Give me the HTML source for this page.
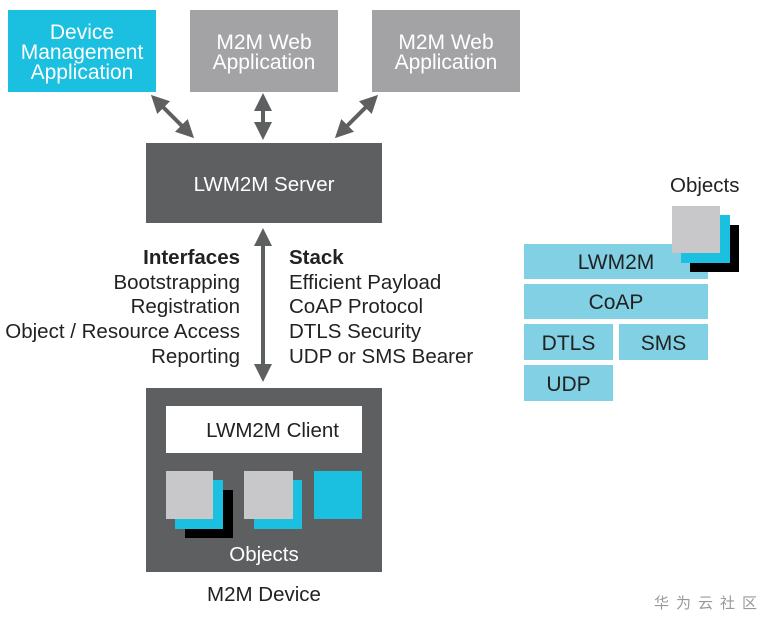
<!DOCTYPE html><html><head><style>
body{margin:0;width:774px;height:626px;background:#fff;position:relative;font-family:"Liberation Sans",sans-serif;overflow:hidden}
.b{position:absolute;display:flex;align-items:center;justify-content:center;text-align:center;padding-top:3px;box-sizing:border-box}
.t{position:absolute;font-size:20.5px;color:#222;line-height:24.7px}
</style></head><body>
<div class="b" style="left:8px;top:10px;width:148px;height:82px;background:#1bbfe0;color:#fff;font-size:21px;line-height:20px">Device<br>Management<br>Application</div>
<div class="b" style="left:190px;top:10px;width:148px;height:82px;background:#a3a3a5;color:#fff;font-size:21px;line-height:20px">M2M Web<br>Application</div>
<div class="b" style="left:372px;top:10px;width:148px;height:82px;background:#a3a3a5;color:#fff;font-size:21px;line-height:20px">M2M Web<br>Application</div>
<div class="b" style="left:146px;top:143px;width:236px;height:80px;background:#5e5f61;color:#fff;font-size:20.5px">LWM2M Server</div>
<svg style="position:absolute;left:0;top:0" width="774" height="626">
<defs><marker id="a" markerWidth="4.5" markerHeight="4.5" refX="2" refY="2.25" orient="auto-start-reverse"><path d="M0,0L4.5,2.25L0,4.5z" fill="#5e5f61"/></marker></defs>
<g stroke="#5e5f61" stroke-width="4" marker-start="url(#a)" marker-end="url(#a)">
<line x1="158" y1="102" x2="187" y2="131"/><line x1="263" y1="103" x2="263" y2="130"/><line x1="371" y1="102" x2="342" y2="131"/>
<line x1="263" y1="238" x2="263" y2="372"/></g>
</svg>
<div class="t" style="right:534px;top:246px;text-align:right"><b>Interfaces</b><br>Bootstrapping<br>Registration<br>Object / Resource Access<br>Reporting</div>
<div class="t" style="left:289px;top:246px"><b>Stack</b><br>Efficient Payload<br>CoAP Protocol<br>DTLS Security<br>UDP or SMS Bearer</div>
<div style="position:absolute;left:146px;top:388px;width:236px;height:184px;background:#5e5f61"></div>
<div class="b" style="left:166px;top:406px;width:196px;height:47px;background:#fff;color:#222;font-size:20.5px">&nbsp;&nbsp;&nbsp;LWM2M Client</div>
<div style="position:absolute;left:185px;top:490px;width:48px;height:48px;background:#000"></div>
<div style="position:absolute;left:175px;top:480px;width:48px;height:49px;background:#1bbfe0"></div>
<div style="position:absolute;left:166px;top:471px;width:47px;height:48px;background:#c8c8ca"></div>
<div style="position:absolute;left:254px;top:480px;width:48px;height:49px;background:#1bbfe0"></div>
<div style="position:absolute;left:244px;top:471px;width:49px;height:48px;background:#c8c8ca"></div>
<div style="position:absolute;left:314px;top:471px;width:48px;height:48px;background:#1bbfe0"></div>
<div class="b" style="left:146px;top:540px;width:236px;height:26px;color:#fff;font-size:20.5px">Objects</div>
<div class="b" style="left:146px;top:580px;width:236px;height:26px;color:#222;font-size:20.5px">M2M Device</div>
<div class="t" style="left:670px;top:174px">Objects</div>
<div class="b" style="left:524px;top:244px;width:184px;height:35px;background:#82d0e4;color:#222;font-size:21px">LWM2M</div>
<div style="position:absolute;left:690px;top:225px;width:49px;height:47px;background:#000"></div>
<div style="position:absolute;left:681px;top:215px;width:49px;height:48px;background:#1bbfe0"></div>
<div style="position:absolute;left:672px;top:206px;width:48px;height:47px;background:#c8c8ca"></div>
<div class="b" style="left:524px;top:284px;width:184px;height:35px;background:#82d0e4;color:#222;font-size:21px">CoAP</div>
<div class="b" style="left:524px;top:324px;width:89px;height:36px;background:#82d0e4;color:#222;font-size:21px">DTLS</div>
<div class="b" style="left:619px;top:324px;width:89px;height:36px;background:#82d0e4;color:#222;font-size:21px">SMS</div>
<div class="b" style="left:524px;top:365px;width:89px;height:36px;background:#82d0e4;color:#222;font-size:21px">UDP</div>
<div style="position:absolute;left:654px;top:592px;font-size:15px;color:#999;letter-spacing:7px;font-family:'Liberation Sans','Noto Sans CJK SC',sans-serif">华为云社区</div>
</body></html>
